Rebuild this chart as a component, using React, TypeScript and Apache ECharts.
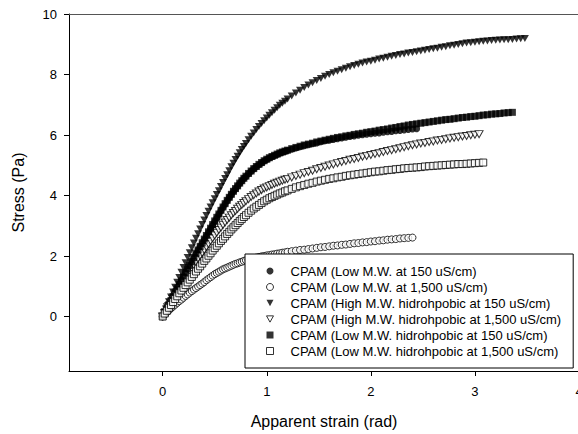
import React, { useEffect, useRef } from "react";
import * as echarts from "echarts";

// Strain sample positions (rad)
const strain = [
  0, 0.02, 0.04, 0.06, 0.08, 0.1, 0.12, 0.14, 0.16, 0.18, 0.2, 0.22, 0.24, 0.26, 0.28, 0.3,
  0.32, 0.34, 0.36, 0.38, 0.4, 0.42, 0.44, 0.46, 0.48, 0.5, 0.52, 0.54, 0.56, 0.58, 0.6, 0.62,
  0.64, 0.66, 0.68, 0.7, 0.72, 0.74, 0.76, 0.78, 0.8,
  0.825, 0.85, 0.875, 0.9, 0.925, 0.95, 0.975, 1.0, 1.025, 1.05, 1.075, 1.1, 1.125, 1.15, 1.175, 1.2,
  1.24, 1.28, 1.32, 1.36, 1.4, 1.44, 1.48, 1.52, 1.56, 1.6, 1.64, 1.68, 1.72, 1.76, 1.8, 1.84,
  1.88, 1.92, 1.96, 2.0, 2.04, 2.08, 2.12, 2.16, 2.2, 2.24, 2.28, 2.32, 2.36, 2.4, 2.44, 2.48,
  2.52, 2.56, 2.6, 2.64, 2.68, 2.72, 2.76, 2.8, 2.84, 2.88, 2.92, 2.96, 3.0, 3.04, 3.08, 3.12,
  3.16, 3.2, 3.24, 3.28, 3.32, 3.36, 3.4, 3.44, 3.48,
];

// Stress (Pa) per series, read at the strain positions above
const lowMW150 = [
  0, 0.13, 0.26, 0.40, 0.53, 0.66, 0.79, 0.92, 1.04, 1.17, 1.30, 1.43, 1.56, 1.68, 1.81, 1.94,
  2.07, 2.19, 2.31, 2.42, 2.54, 2.66, 2.78, 2.90, 3.02, 3.14, 3.26, 3.38, 3.50, 3.61, 3.72, 3.83,
  3.93, 4.03, 4.13, 4.22, 4.31, 4.40, 4.48, 4.56, 4.63,
  4.72, 4.80, 4.88, 4.95, 5.02, 5.08, 5.14, 5.19, 5.24, 5.28, 5.32, 5.36, 5.40, 5.43, 5.46, 5.49,
  5.53, 5.57, 5.61, 5.65, 5.68, 5.71, 5.74, 5.78, 5.81, 5.83, 5.85, 5.88, 5.90, 5.93, 5.95, 5.97,
  5.99, 6.01, 6.03, 6.04, 6.06, 6.07, 6.09, 6.11, 6.12, 6.14, 6.15, 6.17, 6.18, 6.20, 6.21,
];
const lowMW1500 = [
  0, 0.07, 0.14, 0.20, 0.27, 0.33, 0.39, 0.45, 0.51, 0.56, 0.62, 0.68, 0.73, 0.79, 0.84, 0.89,
  0.94, 0.99, 1.04, 1.09, 1.14, 1.20, 1.25, 1.30, 1.35, 1.40, 1.44, 1.48, 1.52, 1.56, 1.59, 1.62,
  1.65, 1.68, 1.71, 1.74, 1.76, 1.79, 1.81, 1.84, 1.86,
  1.88, 1.91, 1.93, 1.95, 1.97, 1.99, 2.00, 2.02, 2.03, 2.05, 2.06, 2.08, 2.09, 2.11, 2.12, 2.14,
  2.16, 2.18, 2.20, 2.21, 2.23, 2.25, 2.27, 2.29, 2.30, 2.32, 2.34, 2.35, 2.37, 2.38, 2.40, 2.42,
  2.43, 2.45, 2.46, 2.48, 2.49, 2.51, 2.52, 2.54, 2.55, 2.56, 2.58, 2.59, 2.60, 2.61,
];
const highMWHydro150 = [
  0, 0.16, 0.32, 0.49, 0.65, 0.81, 0.97, 1.13, 1.29, 1.46, 1.62, 1.78, 1.95, 2.11, 2.27, 2.43,
  2.59, 2.74, 2.89, 3.04, 3.19, 3.34, 3.48, 3.62, 3.76, 3.89, 4.03, 4.16, 4.30, 4.43, 4.56, 4.69,
  4.82, 4.95, 5.07, 5.19, 5.30, 5.41, 5.52, 5.62, 5.72,
  5.84, 5.96, 6.07, 6.18, 6.28, 6.38, 6.47, 6.56, 6.65, 6.74, 6.82, 6.90, 6.98, 7.05, 7.12, 7.19,
  7.29, 7.39, 7.48, 7.57, 7.65, 7.73, 7.80, 7.87, 7.94, 8.00, 8.06, 8.11, 8.16, 8.21, 8.26, 8.30,
  8.34, 8.38, 8.41, 8.44, 8.47, 8.51, 8.54, 8.57, 8.60, 8.63, 8.66, 8.68, 8.71, 8.73, 8.75, 8.78,
  8.80, 8.83, 8.85, 8.87, 8.90, 8.92, 8.95, 8.97, 8.99, 9.02, 9.04, 9.05, 9.07, 9.08, 9.10, 9.11,
  9.12, 9.13, 9.14, 9.15, 9.15, 9.16, 9.17, 9.18, 9.19,
];
const highMWHydro1500 = [
  0, 0.12, 0.23, 0.35, 0.46, 0.58, 0.70, 0.81, 0.93, 1.04, 1.15, 1.26, 1.37, 1.47, 1.58, 1.69,
  1.79, 1.90, 2.00, 2.10, 2.20, 2.30, 2.40, 2.50, 2.59, 2.68, 2.77, 2.86, 2.94, 3.03, 3.11, 3.19,
  3.27, 3.35, 3.42, 3.49, 3.56, 3.63, 3.69, 3.75, 3.81,
  3.88, 3.95, 4.01, 4.07, 4.13, 4.18, 4.23, 4.27, 4.31, 4.35, 4.39, 4.42, 4.46, 4.49, 4.52, 4.55,
  4.60, 4.65, 4.69, 4.74, 4.78, 4.82, 4.87, 4.91, 4.95, 4.99, 5.03, 5.07, 5.11, 5.14, 5.18, 5.21,
  5.24, 5.28, 5.31, 5.34, 5.37, 5.40, 5.44, 5.47, 5.50, 5.53, 5.56, 5.60, 5.63, 5.66, 5.69, 5.72,
  5.74, 5.77, 5.79, 5.82, 5.84, 5.86, 5.89, 5.91, 5.93, 5.95, 5.97, 5.99, 6.01, 6.03,
];
const lowMWHydro150 = [
  0, 0.13, 0.26, 0.40, 0.53, 0.66, 0.79, 0.92, 1.05, 1.18, 1.31, 1.44, 1.57, 1.69, 1.82, 1.95,
  2.08, 2.20, 2.32, 2.44, 2.56, 2.68, 2.80, 2.92, 3.04, 3.16, 3.28, 3.39, 3.51, 3.62, 3.73, 3.84,
  3.94, 4.04, 4.14, 4.23, 4.32, 4.41, 4.49, 4.57, 4.64,
  4.73, 4.81, 4.89, 4.96, 5.03, 5.09, 5.15, 5.20, 5.25, 5.29, 5.33, 5.37, 5.41, 5.44, 5.47, 5.50,
  5.55, 5.59, 5.63, 5.67, 5.70, 5.73, 5.77, 5.80, 5.83, 5.86, 5.89, 5.92, 5.94, 5.97, 5.99, 6.02,
  6.04, 6.06, 6.09, 6.11, 6.13, 6.16, 6.18, 6.20, 6.23, 6.25, 6.28, 6.30, 6.33, 6.35, 6.37, 6.39,
  6.41, 6.43, 6.45, 6.47, 6.49, 6.51, 6.52, 6.54, 6.56, 6.58, 6.59, 6.61, 6.62, 6.64, 6.66, 6.67,
  6.69, 6.70, 6.71, 6.73, 6.74, 6.75,
];
const lowMWHydro1500 = [
  0, 0.10, 0.19, 0.29, 0.38, 0.48, 0.58, 0.67, 0.77, 0.86, 0.95, 1.04, 1.13, 1.22, 1.31, 1.40,
  1.49, 1.58, 1.66, 1.75, 1.84, 1.92, 2.01, 2.09, 2.18, 2.26, 2.34, 2.42, 2.50, 2.57, 2.65, 2.73,
  2.80, 2.88, 2.95, 3.02, 3.09, 3.16, 3.22, 3.29, 3.35,
  3.43, 3.50, 3.57, 3.63, 3.69, 3.75, 3.81, 3.86, 3.91, 3.95, 3.99, 4.03, 4.07, 4.10, 4.14, 4.17,
  4.22, 4.27, 4.31, 4.35, 4.39, 4.42, 4.46, 4.49, 4.52, 4.55, 4.57, 4.60, 4.62, 4.65, 4.67, 4.69,
  4.71, 4.73, 4.75, 4.77, 4.79, 4.80, 4.82, 4.84, 4.85, 4.87, 4.88, 4.90, 4.91, 4.92, 4.93, 4.94,
  4.96, 4.97, 4.98, 4.99, 5.00, 5.01, 5.02, 5.03, 5.04, 5.04, 5.05, 5.06, 5.07, 5.08, 5.09,
];

const seriesNames = [
  "CPAM (Low M.W. at 150 uS/cm)",
  "CPAM (Low M.W. at 1,500 uS/cm)",
  "CPAM (High M.W. hidrohpobic at 150 uS/cm)",
  "CPAM (High M.W. hidrohpobic at 1,500 uS/cm)",
  "CPAM (Low M.W. hidrohpobic at 150 uS/cm)",
  "CPAM (Low M.W. hidrohpobic at 1,500 uS/cm)",
];

const xTicks = [0, 1, 2, 3, 4];
const yTicks = [0, 2, 4, 6, 8, 10];

const FONT = "'Liberation Sans', Arial, sans-serif";
const TRI_DOWN = "path://M0,0L10,0L5,9Z";

export default function App() {
  const ref = useRef<HTMLDivElement>(null);
  useEffect(() => {
    if (!ref.current) return;
    const chart = echarts.init(ref.current, undefined, { renderer: "svg" });
    const values = [lowMW150, lowMW1500, highMWHydro150, highMWHydro1500, lowMWHydro150, lowMWHydro1500];
    const styles = [
      { symbol: "circle", size: 7, filled: true, icon: "circle" },
      { symbol: "circle", size: 7, filled: false, icon: "circle" },
      { symbol: TRI_DOWN, size: [8, 7], filled: true, icon: TRI_DOWN },
      { symbol: TRI_DOWN, size: [8, 7], filled: false, icon: TRI_DOWN },
      { symbol: "rect", size: 7, filled: true, icon: "rect" },
      { symbol: "rect", size: 7, filled: false, icon: "rect" },
    ];
    const itemStyleFor = (filled: boolean) =>
      filled
        ? { color: "#000", borderColor: "#000", borderWidth: 0 }
        : { color: "#fff", borderColor: "#000", borderWidth: 1 };
    const series = values.map((ys, k) => ({
      type: "scatter",
      name: seriesNames[k],
      data: ys.map((y, i) => [strain[i], y]),
      symbol: styles[k].symbol,
      symbolSize: styles[k].size,
      itemStyle: itemStyleFor(styles[k].filled),
      emphasis: { disabled: true },
      z: 2 + k * 0.01,
    }));
    chart.setOption({
      animation: false,
      backgroundColor: "#fff",
      textStyle: { fontFamily: FONT },
      grid: { left: 69, top: 14, right: -1, bottom: 63, containLabel: false, outerBoundsMode: "none" },
      legend: {
        left: 245,
        top: 254,
        orient: "vertical",
        padding: [10, 12, 10, 21],
        itemGap: 2,
        itemWidth: 7,
        itemHeight: 7,
        symbolKeepAspect: true,
        borderColor: "#000",
        borderWidth: 1,
        backgroundColor: "#fff",
        selectedMode: false,
        textStyle: { fontFamily: FONT, fontSize: 13, color: "#000", lineHeight: 14, padding: [0, 0, 0, 12] },
        data: seriesNames.map((n, k) => ({
          name: n,
          icon: styles[k].icon,
          itemStyle: itemStyleFor(styles[k].filled),
        })),
      },
      xAxis: [
        {
          type: "value",
          min: -0.9,
          max: 4,
          name: "Apparent strain (rad)",
          nameLocation: "middle",
          nameGap: 42,
          nameTextStyle: { fontFamily: FONT, fontSize: 16, color: "#000" },
          axisLine: { onZero: false, lineStyle: { color: "#000", width: 1 } },
          axisTick: { show: true, length: 5, customValues: xTicks, lineStyle: { color: "#000" } },
          axisLabel: { customValues: xTicks, fontFamily: FONT, fontSize: 13, color: "#000", margin: 14 },
          splitLine: { show: false },
        },
        {
          type: "value",
          position: "top",
          min: -0.9,
          max: 4,
          axisLine: { onZero: false, lineStyle: { color: "#555", width: 1 } },
          axisTick: { show: false },
          axisLabel: { show: false },
          splitLine: { show: false },
        },
      ],
      yAxis: {
        type: "value",
        min: -1.8,
        max: 10,
        name: "Stress (Pa)",
        nameLocation: "middle",
        nameGap: 43,
        nameTextStyle: { fontFamily: FONT, fontSize: 16, color: "#000" },
        axisLine: { onZero: false, lineStyle: { color: "#000", width: 1 } },
        axisTick: { show: true, length: 5, customValues: yTicks, lineStyle: { color: "#000" } },
        axisLabel: { customValues: yTicks, fontFamily: FONT, fontSize: 13, color: "#000", margin: 12 },
        splitLine: { show: false },
      },
      series,
    });
    return () => chart.dispose();
  }, []);
  return (
    <div
      ref={ref}
      style={{ position: "fixed", left: 0, top: 0, width: 578, height: 434 }}
    />
  );
}
